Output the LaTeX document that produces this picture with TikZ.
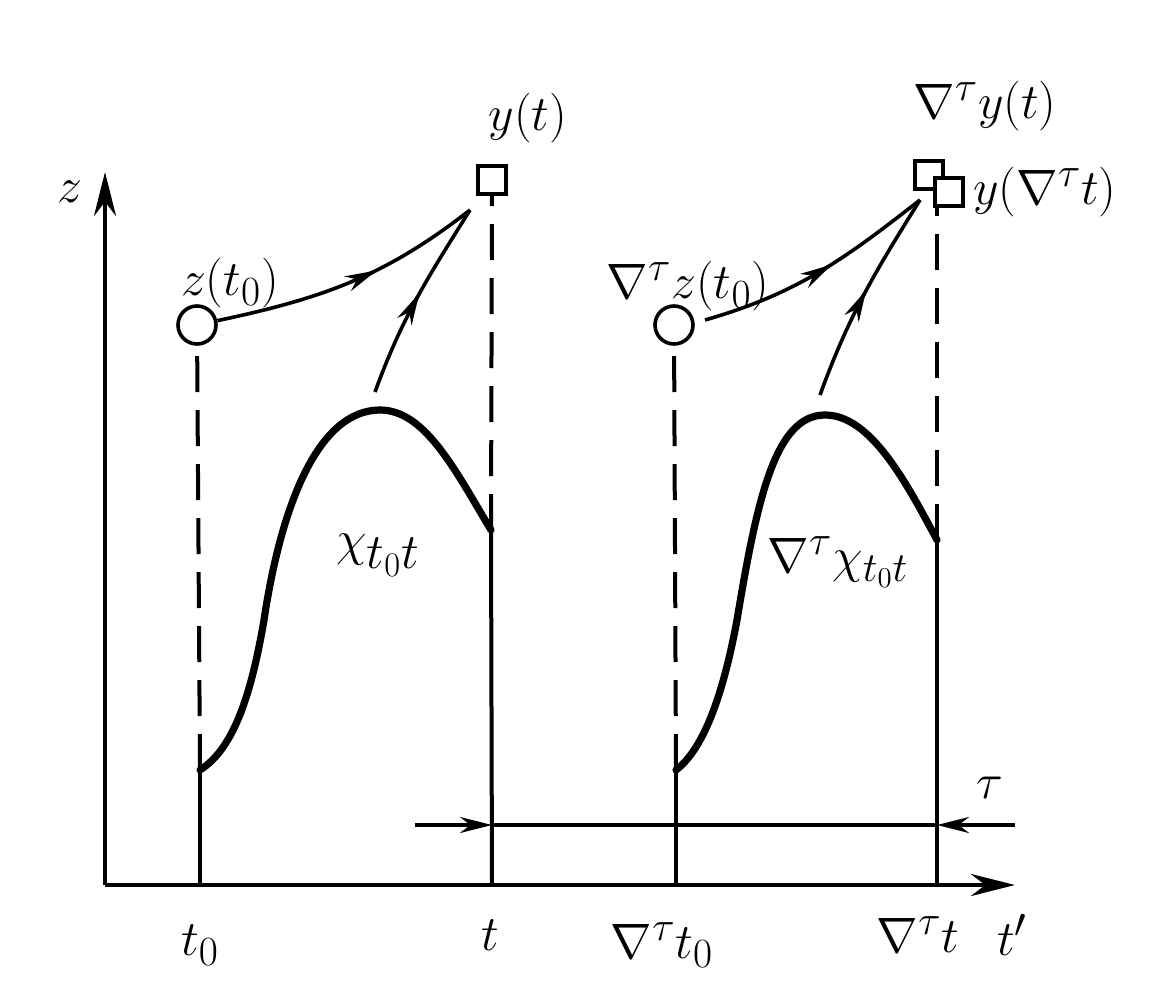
\documentclass[tikz,border=0pt]{standalone}
\usepackage{amsmath}
\usetikzlibrary{arrows.meta,positioning}

\newcommand{\flowtip}{\tikz\draw[line width=1.8pt,-{Stealth[length=16pt,width=8pt]}] (0,0) -- (2pt,0);}

\begin{document}
\begin{tikzpicture}[%
    x=0.5pt, y=-0.5pt,
    every node/.style={font=\fontsize{30}{34}\selectfont},
    axisline/.style={line width=2.4pt,-{Stealth[length=22pt,width=11pt]}},
    trajline/.style={line width=3.6pt,line join=round,line cap=round},
    guide/.style={line width=2pt},
    guidedash/.style={guide,dash pattern=on 18pt off 9pt},
    start/.style={circle,draw,line width=1.8pt,minimum size=19pt,inner sep=0pt},
    finish/.style={rectangle,draw,line width=1.8pt,minimum size=14pt,inner sep=0pt,fill=white},
    flow/.style={line width=1.8pt},
    midtip/.style={sloped,inner sep=0pt,outer sep=0pt,anchor=center},
    shiftarrow/.style={guide,-{Stealth[length=16pt,width=8pt]}},
    biglab/.style={font=\fontsize{34}{38}\selectfont}
]
        \useasboundingbox (0,0) rectangle (1164,1002);

        % axes
        \coordinate (O) at (105,885);
        \coordinate (ztip) at (105,172);
        \coordinate (ttip) at (1015,885);
        \draw[axisline] (O) -- (ztip);
        \draw[axisline] (O) -- (ttip);
        \node (zlab) at (70,192) {$z$};

        % original trajectory
        \node[start] (z0) at (197,325) {};
        \node[finish] (yt) at (492,180) {};
        \coordinate (a0) at (200,885);
        \coordinate (a1) at (200,770);
        \coordinate (b0) at (492,885);
        \coordinate (b1) at (491,530);
        \draw[guide] (a0) -- (a1);
        \draw[guidedash] (a1) -- (z0);
        \draw[guide] (b0) -- (b1);
        \draw[guidedash] (b1) -- (yt);
        \draw[trajline] (a1) .. controls (235,748) and (252,690) .. (264,620)
            .. controls (282,500) and (320,410) .. (380,410)
            .. controls (425,410) and (455,470) .. (b1);
        \coordinate (yin) at (470,210);
        \coordinate (xout) at (375,392);
        \draw[flow] (z0) to[out=12,in=218] node[midtip,pos=0.55] {\flowtip} (yin);
        \draw[flow] (xout) to[out=70,in=238] node[midtip,pos=0.45] {\flowtip} (yin);

        \node (z0lab) at (230,283) {$z(t_0)$};
        \node (ytlab) at (528,118) {$y(t)$};
        \node[biglab] (xlab) at (378,555) {$\chi_{t_0t}$};

        % shifted trajectory
        \node[start] (nz0) at (674,325) {};
        \node[finish] (nyt) at (929,175) {};
        \node[finish] (ynt) at (949,192) {};
        \coordinate (c0) at (676,885);
        \coordinate (c1) at (676,770);
        \coordinate (d0) at (937,885);
        \coordinate (d1) at (937,540);
        \draw[guide] (c0) -- (c1);
        \draw[guidedash] (c1) -- (nz0);
        \draw[guide] (d0) -- (d1);
        \draw[guidedash] (d1) -- (d1 |- ynt.south);
        \draw[trajline] (c1) .. controls (705,748) and (724,690) .. (737,620)
            .. controls (757,500) and (775,415) .. (825,415)
            .. controls (870,415) and (905,480) .. (d1);
        \coordinate (nyin) at (920,200);
        \coordinate (nz0out) at (705,320);
        \coordinate (nxout) at (820,395);
        \draw[flow] (nz0out) to[out=16,in=218] node[midtip,pos=0.5] {\flowtip} (nyin);
        \draw[flow] (nxout) to[out=70,in=238] node[midtip,pos=0.45] {\flowtip} (nyin);

        \node (nz0lab) at (688,286) {$\nabla^{\tau}z(t_0)$};
        \node (nytlab) at (985,106) {$\nabla^{\tau}y(t)$};
        \node (yntlab) at (1045,192) {$y(\nabla^{\tau}t)$};
        \node (nxlab) at (838,562) {$\nabla^{\tau}\chi_{t_0t}$};

        % time shift
        \coordinate (tauL) at (415,825);
        \coordinate (tauR) at (1015,825);
        \coordinate (tauA) at (492,825);
        \coordinate (tauB) at (937,825);
        \draw[shiftarrow] (tauL) -- (tauA);
        \draw[guide] (tauA) -- (tauB);
        \draw[shiftarrow] (tauR) -- (tauB);
        \node (taulab) at (990,788) {$\tau$};

        % axis labels
        \node (t0lab) at (200,945) {$t_0$};
        \node (tlab) at (490,935) {$t$};
        \node (nt0lab) at (662,945) {$\nabla^{\tau}t_0$};
        \node (ntlab) at (918,935) {$\nabla^{\tau}t$};
        \node (tplab) at (1012,935) {$t'$};
\end{tikzpicture}
\end{document}
